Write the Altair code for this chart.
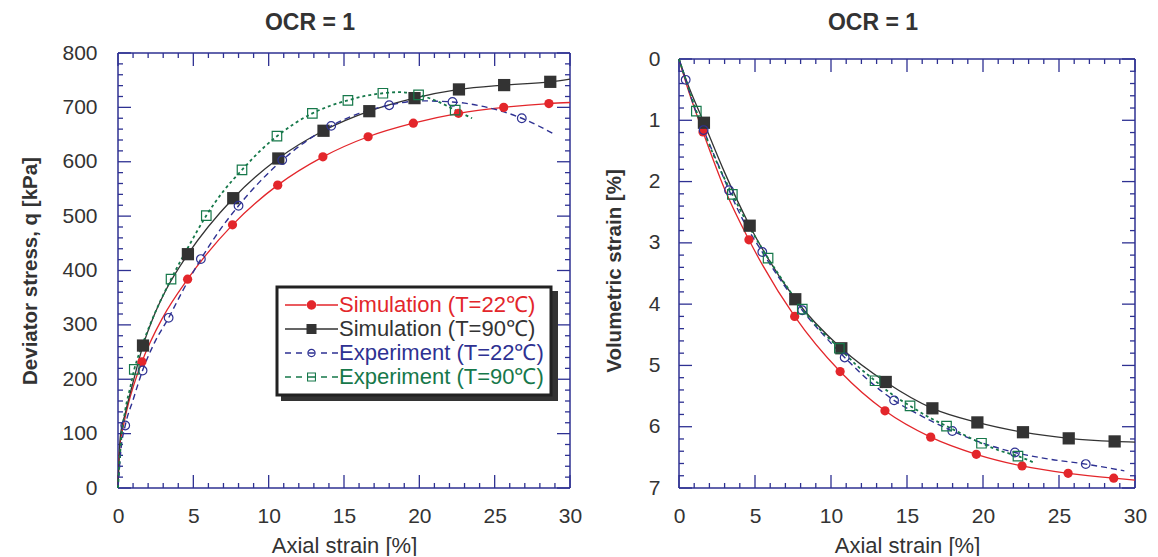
import altair as alt
import pandas as pd

FONT = "Liberation Sans"
AXIS_COL = "#2e3192"
TXT = "#333333"

names = ["Simulation (T=22℃)", "Simulation (T=90℃)", "Experiment (T=22℃)", "Experiment (T=90℃)"]
colors = ["#e3262b", "#333333", "#2e3192", "#16784a"]

# ---------------- Left panel: deviator stress q [kPa] vs axial strain [%]
L_sim22_x = [0, 0.1, 0.37, 0.7, 1.59, 3.0, 4.62, 7.6, 10.6, 13.6, 16.6, 19.6, 22.6, 25.6, 28.6, 30]
L_sim22_q = [0, 70, 116, 156, 232, 315, 384, 484, 557, 609, 646, 671, 689, 700, 707, 709]
L_sim22_mx = [1.59, 4.62, 7.6, 10.6, 13.6, 16.6, 19.6, 22.6, 25.6, 28.6]
L_sim22_mq = [232, 384, 484, 557, 609, 646, 671, 689, 700, 707]

L_sim90_x = [0, 0.15, 0.48, 1.04, 1.66, 2.36, 3.2, 4.64, 7.65, 10.64, 13.64, 16.68, 19.68, 22.63, 25.63, 28.69, 30]
L_sim90_q = [0, 94, 137, 199, 262, 315, 365, 430, 533, 606, 657, 693, 717, 733, 741, 747, 752]
L_sim90_mx = [1.66, 4.64, 7.65, 10.64, 13.64, 16.68, 19.68, 22.63, 25.63, 28.69]
L_sim90_mq = [262, 430, 533, 606, 657, 693, 717, 733, 741, 747]

L_exp22_x = [0, 0.2, 0.48, 1.0, 1.63, 2.4, 3.36, 4.3, 5.5, 6.7, 8.0, 9.4, 10.9, 12.5, 14.15, 16.0, 18.0, 20.0, 22.2, 24.5, 26.8, 29.0]
L_exp22_q = [0, 72, 115, 162, 216, 266, 313, 363, 421, 472, 519, 563, 603, 638, 666, 689, 704, 712, 710, 700, 680, 650]
L_exp22_mx = [0.48, 1.63, 3.36, 5.5, 8.0, 10.9, 14.15, 18.0, 22.2, 26.8]
L_exp22_mq = [115, 216, 313, 421, 519, 603, 666, 704, 710, 680]

L_exp90_x = [0, 0.2, 0.48, 0.82, 1.08, 1.6, 2.3, 3.52, 4.7, 5.86, 7.0, 8.23, 9.4, 10.55, 11.7, 12.9, 14.1, 15.26, 16.4, 17.58, 18.7, 19.95, 21.2, 22.38, 23.5]
L_exp90_q = [0, 85, 143, 186, 218, 262, 312, 384, 445, 501, 546, 585, 619, 647, 670, 689, 703, 713, 721, 726, 728, 723, 711, 695, 680]
L_exp90_mx = [1.08, 3.52, 5.86, 8.23, 10.55, 12.9, 15.26, 17.58, 19.95, 22.38]
L_exp90_mq = [218, 384, 501, 585, 647, 689, 713, 726, 723, 695]

# ---------------- Right panel: volumetric strain [%] vs axial strain [%]
R_sim22_x = [0, 0.5, 1.58, 3.0, 4.6, 7.61, 10.6, 13.55, 16.56, 19.56, 22.57, 25.6, 28.6, 30]
R_sim22_v = [0, 0.42, 1.19, 2.12, 2.95, 4.2, 5.1, 5.74, 6.17, 6.45, 6.64, 6.76, 6.84, 6.87]
R_sim22_mx = [1.58, 4.6, 7.61, 10.6, 13.55, 16.56, 19.56, 22.57, 25.6, 28.6]
R_sim22_mv = [1.19, 2.95, 4.2, 5.1, 5.74, 6.17, 6.45, 6.64, 6.76, 6.84]

R_sim90_x = [0, 0.5, 1.64, 3.0, 4.65, 7.65, 10.68, 13.6, 16.67, 19.63, 22.63, 25.64, 28.66, 30]
R_sim90_v = [0, 0.36, 1.04, 1.85, 2.72, 3.92, 4.72, 5.27, 5.70, 5.93, 6.09, 6.19, 6.24, 6.25]
R_sim90_mx = [1.64, 4.65, 7.65, 10.68, 13.6, 16.67, 19.63, 22.63, 25.64, 28.66]
R_sim90_mv = [1.04, 2.72, 3.92, 4.72, 5.27, 5.70, 5.93, 6.09, 6.19, 6.24]

R_exp22_x = [0, 0.44, 1.0, 1.62, 2.4, 3.29, 4.3, 5.48, 6.8, 8.11, 9.5, 10.9, 12.5, 14.15, 16.0, 17.98, 20.0, 22.1, 24.4, 26.76, 29.3]
R_exp22_v = [0, 0.34, 0.78, 1.16, 1.62, 2.14, 2.67, 3.15, 3.65, 4.1, 4.5, 4.87, 5.25, 5.57, 5.83, 6.07, 6.27, 6.42, 6.53, 6.61, 6.72]
R_exp22_mx = [0.44, 1.62, 3.29, 5.48, 8.11, 10.9, 14.15, 17.98, 22.1, 26.76]
R_exp22_mv = [0.34, 1.16, 2.14, 3.15, 4.1, 4.87, 5.57, 6.07, 6.42, 6.61]

R_exp90_x = [0, 0.5, 1.14, 2.3, 3.51, 4.7, 5.86, 7.0, 8.11, 9.3, 10.55, 11.7, 12.9, 14.0, 15.2, 16.4, 17.6, 18.8, 19.9, 21.1, 22.3, 23.4]
R_exp90_v = [0, 0.38, 0.85, 1.58, 2.21, 2.77, 3.25, 3.68, 4.08, 4.42, 4.72, 5.0, 5.25, 5.47, 5.66, 5.84, 5.99, 6.14, 6.27, 6.39, 6.48, 6.59]
R_exp90_mx = [1.14, 3.51, 5.86, 8.11, 10.55, 12.9, 15.2, 17.6, 19.9, 22.3]
R_exp90_mv = [0.85, 2.21, 3.25, 4.08, 4.72, 5.25, 5.66, 5.99, 6.27, 6.48]

# tick values
x_major = [0, 5, 10, 15, 20, 25, 30]
x_minor = [v for v in range(0, 31) if v % 5 != 0]
L_y_major = [0, 100, 200, 300, 400, 500, 600, 700, 800]
L_y_minor = [v for v in range(0, 801, 20) if v % 100 != 0]
R_y_major = [0, 1, 2, 3, 4, 5, 6, 7]
R_y_minor = [round(i * 0.2, 1) for i in range(0, 36) if i % 5 != 0]


def df(xs, ys):
    return pd.DataFrame({"x": xs, "y": ys})


# ---- legend symbol paths (symbol unit = 10 px; symbol spans -1 .. 4.3 units)
def rect(x0, x1, h=0.065):
    return f"M{x0},{-h}H{x1}V{h}H{x0}Z"


def disc(cx, r):
    return (f"M{cx - r},0A{r},{r} 0 1,0 {cx + r},0A{r},{r} 0 1,0 {cx - r},0Z")


def ring(cx, R, r):
    return disc(cx, R) + (f"M{cx - r},0A{r},{r} 0 1,1 {cx + r},0"
                          f"A{r},{r} 0 1,1 {cx - r},0Z")


def sq(cx, a):
    return f"M{cx - a},{-a}H{cx + a}V{a}H{cx - a}Z"


def sqframe(cx, a, b):
    return sq(cx, a) + f"M{cx - b},{-b}V{b}H{cx + b}V{-b}Z"


L0, L1, C = -1.0, 4.3, 1.65
dashes = (rect(-1.0, -0.4) + rect(0.1, 0.7) + rect(2.6, 3.2) + rect(3.7, 4.3))
paths = [
    rect(L0, C - 0.5) + disc(C, 0.47) + rect(C + 0.5, L1),
    rect(L0, C - 0.5) + sq(C, 0.5) + rect(C + 0.5, L1),
    dashes + ring(C, 0.42, 0.31) + rect(C - 0.31, C + 0.31),
    dashes + sqframe(C, 0.45, 0.34) + rect(C - 0.34, C + 0.34),
]

label_expr = (
    f"datum.value == '{names[0]}' ? '{colors[0]}' : "
    f"datum.value == '{names[1]}' ? '{colors[1]}' : "
    f"datum.value == '{names[2]}' ? '{colors[2]}' : '{colors[3]}'"
)

LEG_X, LEG_Y = 159, 234          # legend box position inside the left plot
LEG_W, LEG_H = 277, 110          # legend box size (for its drop shadow)
SHADOW = 4


def panel(lines, markers, ydom, yrev, ytop, ybot, inward, ymaj, ymin, ytitle, W, H,
          lab_pad_y, title_pad_y, title_offset, legend=False):
    """ytop/ybot: data values at the frame's top and bottom edges;
    inward: data units per pixel going from the top edge into the plot."""
    X = alt.X("x:Q", scale=alt.Scale(domain=[0, 30], nice=False, zero=False),
              axis=alt.Axis(values=x_major, ticks=False, tickSize=0, domain=False, grid=False,
                            labelFontSize=21, labelFont=FONT, labelColor=TXT, labelPadding=17,
                            labelFlush=False, format="d",
                            title="Axial strain [%]", titleFont=FONT, titleFontSize=22,
                            titleFontWeight="normal", titleColor=TXT, titlePadding=9))
    yscale = alt.Scale(domain=ydom, nice=False, zero=False, reverse=yrev)
    Y = alt.Y("y:Q", scale=yscale,
              axis=alt.Axis(values=ymaj, ticks=False, tickSize=0, domain=False, grid=False,
                            labelFontSize=21, labelFont=FONT, labelColor=TXT,
                            labelPadding=lab_pad_y, labelFlush=False, format="d",
                            title=ytitle, titleFont=FONT, titleFontSize=20.5,
                            titleFontWeight="bold", titleColor=TXT, titlePadding=title_pad_y))
    rule = dict(color=AXIS_COL, strokeWidth=1.3)
    layers = []
    # frame
    fr = dict(color=AXIS_COL, strokeWidth=1.5)
    layers.append(alt.Chart(pd.DataFrame({"y": [ytop, ybot]})).mark_rule(**fr).encode(
        y=Y, x=alt.value(0), x2=alt.value(W)))
    side = pd.DataFrame({"y": [ytop], "y2": [ybot]})
    for xv in (0, W):
        layers.append(alt.Chart(side).mark_rule(**fr).encode(
            y=Y, y2=alt.Y2("y2"), x=alt.value(xv)))
    # inward ticks on all four sides
    MAJ, MIN = 13, 5
    for vals, ln in ((x_major, MAJ), (x_minor, MIN)):
        d = pd.DataFrame({"x": vals, "yb": [ybot] * len(vals),
                          "yt": [ytop] * len(vals), "yt2": [ytop + ln * inward] * len(vals)})
        layers.append(alt.Chart(d).mark_rule(**rule).encode(
            x=X, y=alt.Y("yb:Q", scale=yscale), y2=alt.value(H - ln)))
        layers.append(alt.Chart(d).mark_rule(**rule).encode(
            x=X, y=alt.Y("yt:Q", scale=yscale), y2=alt.Y2("yt2")))
    for vals, ln in ((ymaj, MAJ), (ymin, MIN)):
        d = pd.DataFrame({"y": vals})
        layers.append(alt.Chart(d).mark_rule(**rule).encode(
            y=Y, x=alt.value(0), x2=alt.value(ln)))
        layers.append(alt.Chart(d).mark_rule(**rule).encode(
            y=Y, x=alt.value(W), x2=alt.value(W - ln)))
    # lines
    styles = [
        dict(strokeWidth=1.3),
        dict(strokeWidth=1.3),
        dict(strokeWidth=1.4, strokeDash=[6, 4]),
        dict(strokeWidth=1.8, strokeDash=[3, 3]),
    ]
    for (xs, ys), c, st in zip(lines, colors, styles):
        layers.append(alt.Chart(df(xs, ys)).mark_line(color=c, interpolate="monotone", **st)
                      .encode(x=X, y=Y))
    mstyles = [
        dict(shape="circle", filled=True, size=85),
        dict(shape="square", filled=True, size=150),
        dict(shape="circle", filled=False, size=75, strokeWidth=1.2),
        dict(shape="square", filled=False, size=90, strokeWidth=1.2),
    ]
    for (xs, ys), c, st in zip(markers, colors, mstyles):
        layers.append(alt.Chart(df(xs, ys)).mark_point(color=c, opacity=1, **st)
                      .encode(x=X, y=Y))
    if legend:
        # drop shadow behind the legend box
        layers.append(alt.Chart(pd.DataFrame({"s": [0]})).mark_rect(color="#333333").encode(
            x=alt.value(LEG_X + SHADOW), x2=alt.value(LEG_X + LEG_W + SHADOW),
            y=alt.value(LEG_Y + SHADOW), y2=alt.value(LEG_Y + LEG_H + SHADOW)))
        leg = alt.Legend(title=None, orient="none", legendX=LEG_X, legendY=LEG_Y,
                         strokeColor="#222222", fillColor="white", padding=7,
                         rowPadding=2, symbolSize=400, symbolStrokeWidth=0,
                         symbolOpacity=1, labelFont=FONT, labelFontSize=22,
                         labelColor={"expr": label_expr}, labelOffset=33, labelLimit=400)
        empty = pd.DataFrame({"x": pd.Series([], dtype=float), "y": pd.Series([], dtype=float),
                              "series": pd.Series([], dtype=str)})
        layers.append(alt.Chart(empty).mark_point(filled=True).encode(
            x=X, y=Y,
            color=alt.Color("series:N", scale=alt.Scale(domain=names, range=colors), legend=leg),
            shape=alt.Shape("series:N", scale=alt.Scale(domain=names, range=paths), legend=leg)))
    return alt.layer(*layers).properties(
        width=W, height=H,
        title=alt.TitleParams("OCR = 1", fontSize=23, font=FONT, fontWeight="bold", color=TXT,
                              offset=title_offset, dx=-34, anchor="middle", frame="group"))


H = 435
left = panel(
    lines=[(L_sim22_x, L_sim22_q), (L_sim90_x, L_sim90_q), (L_exp22_x, L_exp22_q), (L_exp90_x, L_exp90_q)],
    markers=[(L_sim22_mx, L_sim22_mq), (L_sim90_mx, L_sim90_mq), (L_exp22_mx, L_exp22_mq), (L_exp90_mx, L_exp90_mq)],
    ydom=[0, 800], yrev=False, ytop=800, ybot=0, inward=-800 / H,
    ymaj=L_y_major, ymin=L_y_minor,
    ytitle="Deviator stress, q [kPa]", W=452, H=H, lab_pad_y=21, title_pad_y=21,
    title_offset=7, legend=True)

# right frame is 429 px tall and starts 6 px below the left frame's top
r_unit = 7 / 429
right = panel(
    lines=[(R_sim22_x, R_sim22_v), (R_sim90_x, R_sim90_v), (R_exp22_x, R_exp22_v), (R_exp90_x, R_exp90_v)],
    markers=[(R_sim22_mx, R_sim22_mv), (R_sim90_mx, R_sim90_mv), (R_exp22_mx, R_exp22_mv), (R_exp90_mx, R_exp90_mv)],
    ydom=[-6 * r_unit, 7], yrev=True, ytop=0, ybot=7, inward=r_unit,
    ymaj=R_y_major, ymin=R_y_minor,
    ytitle="Volumetric strain [%]", W=456, H=H, lab_pad_y=19, title_pad_y=24,
    title_offset=13, legend=False)

chart = alt.hconcat(left, right, spacing=22).properties(
    padding={"left": 20, "top": 12, "right": 10, "bottom": 0}
).configure_view(stroke=None).configure_legend(strokeWidth=3)

chart.save("out.html", embed_options={"renderer": "svg", "actions": False})
